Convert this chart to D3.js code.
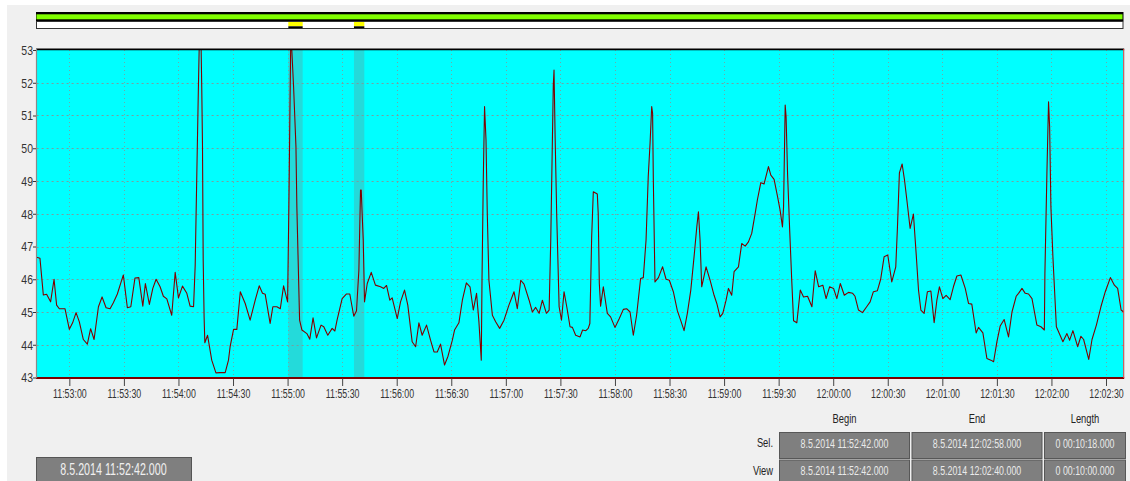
<!DOCTYPE html>
<html><head><meta charset="utf-8">
<script src="https://cdn.jsdelivr.net/npm/d3@7"></script>
<style>
html,body{margin:0;padding:0;background:#fff;}
svg{display:block;}
text{font-family:"Liberation Sans",Arial,sans-serif;}
</style></head><body>
<svg id="c" width="1130" height="481"></svg>
<script>
// ---------- data ----------
const viewStart = "2014-05-08 11:52:42";
const viewEnd = "2014-05-08 12:02:40";
const yTicks = [43,44,45,46,47,48,49,50,51,52,53];
const yGrid = [44,45,46,47,48,49,50,51,52];
// [seconds since view start, value]
const samples = [
[0.0,46.67],[1.85,46.64],[3.7,45.52],[5.5,45.54],[7.7,45.31],[9.6,46.0],[11.0,45.21],[12.5,45.1],[15.6,45.1],[18.0,44.47],
[19.8,44.67],[21.7,44.98],[23.5,44.7],[25.7,44.16],[27.9,44.02],[29.7,44.49],[31.6,44.16],[34.0,45.16],[36.0,45.46],[38.2,45.13],
[40.4,45.1],[42.2,45.28],[44.4,45.55],[46.3,45.89],[47.7,46.13],[49.9,45.13],[51.8,45.16],[54.1,46.04],[56.2,46.05],[58.4,45.18],
[59.8,45.87],[62.0,45.23],[63.9,45.72],[65.7,46.0],[67.9,45.77],[69.7,45.48],[71.6,45.4],[74.3,44.9],[76.2,46.21],[78.0,45.43],
[80.2,45.79],[82.6,45.57],[84.4,45.18],[86.3,45.16],[87.2,46.43],[88.1,49.23],[89.0,51.98],[89.6,53.6],[90.3,53.6],[90.8,51.88],
[91.2,50.15],[91.6,46.58],[92.1,44.85],[92.5,44.06],[94.0,44.29],[96.3,43.53],[98.6,43.14],[100.9,43.15],[103.7,43.15],[105.5,43.53],
[106.4,43.94],[108.3,44.47],[110.1,44.47],[112.0,45.62],[114.7,45.26],[117.4,44.75],[120.2,45.36],[122.4,45.8],[124.2,45.57],[125.7,45.54],
[128.4,44.65],[129.9,45.16],[132.1,45.16],[134.0,45.1],[135.8,45.8],[138.0,45.31],[138.7,48.21],[139.8,53.6],[141.3,51.88],[142.6,50.05],
[143.1,48.21],[144.6,44.75],[145.9,44.45],[148.6,44.34],
[150.2,44.17],[152.0,44.82],[153.9,44.21],[156.4,44.6],[157.9,44.55],[160.1,44.29],[162.5,44.5],[164.0,44.42],[165.2,44.75],[168.0,45.41],
[170.4,45.55],[172.2,45.55],[174.4,44.87],[175.9,45.04],[177.2,46.28],[178.1,48.72],[178.5,48.72],[179.0,48.0],[179.6,47.2],[180.3,45.31],
[181.8,45.87],[184.0,46.21],[186.3,45.82],[189.1,45.77],[190.9,45.72],[192.4,45.81],[194.2,45.36],[195.5,45.43],[198.3,44.8],[200.1,45.31],
[202.3,45.67],[204.1,45.21],[206.5,44.09],[208.4,43.94],[210.2,44.67],[212.0,44.29],[214.4,44.6],[216.6,44.14],[218.5,43.78],[220.3,43.78],
[222.1,44.02],[224.3,43.38],[226.2,43.65],[228.6,44.14],[229.8,44.45],[232.2,44.67],[234.1,45.36],[236.3,45.89],[238.3,45.77],[240.1,45.06],
[241.9,45.57],[243.2,44.7],[244.5,43.53],[244.9,45.97],[245.6,49.03],[246.3,51.27],[247.1,50.25],[247.8,48.01],[248.7,45.97],[250.6,44.9],
[252.4,44.7],[254.6,44.5],[257.0,44.75],[259.7,45.21],[262.5,45.62],[264.3,45.1],[266.2,45.97],[268.0,45.85],[270.8,45.36],[272.6,45.0],
[274.4,45.14],[276.3,44.96],[278.1,45.36],[280.3,44.96],[281.8,45.06],[282.7,47.2],[283.6,50.25],[284.1,51.93],[284.5,52.39],[285.1,50.35],
[286.0,47.91],[287.3,45.16],[288.6,44.75],[290.0,45.62],[291.5,45.16],[293.3,44.55],[294.6,44.53],[296.4,44.29],[298.8,44.24],
[300.2,44.45],[302.0,44.43],[303.3,44.5],[304.2,44.65],[305.2,47.3],[306.1,48.67],[308.3,48.6],[308.8,48.0],[309.4,45.87],[310.1,45.18],
[311.6,45.77],[313.8,44.96],[315.6,44.85],[318.0,44.53],[320.4,44.8],[322.6,45.08],[324.4,45.1],[326.3,45.0],[328.1,44.29],[329.9,44.9],
[332.1,46.02],[333.6,46.05],[335.1,47.2],[336.3,49.13],[337.3,50.15],[338.2,51.27],[338.7,51.07],[339.1,49.03],[340.0,45.92],[341.9,46.05],
[344.2,46.38],[346.1,46.0],[347.9,45.97],[350.1,45.62],[352.3,45.04],[354.1,44.75],[356.0,44.43],[357.8,44.96],[359.7,45.67],[361.5,46.69],
[363.0,47.6],[363.9,48.06],[364.8,47.2],[365.7,45.77],[368.1,46.38],[370.3,45.97],[372.5,45.51],[374.0,45.26],[375.8,44.85],[377.3,44.96],
[379.1,45.36],[380.4,45.72],[382.2,45.51],[383.5,46.23],[385.9,46.38],[387.7,47.09],[389.6,47.01],[391.4,47.14],[393.2,47.4],[395.1,48.01],
[396.3,48.42],[398.2,48.95],[400.0,48.91],[402.4,49.44],[403.7,49.18],[405.5,49.05],[407.4,48.52],[408.8,48.11],[410.1,47.6],[410.7,48.21],
[411.6,51.32],[412.1,50.96],[412.9,49.23],[414.0,47.6],[415.2,45.97],[416.2,44.73],[418.0,44.67],[419.9,45.67],[421.7,45.46],[423.9,45.48],
[426.3,45.16],[428.1,46.26],[430.0,45.77],[432.3,45.82],[434.1,45.41],[436.0,45.77],[438.2,45.72],[440.0,45.41],[441.9,45.87],[444.1,45.51],
[446.4,45.6],
[448.7,45.57],[450.0,45.48],[451.9,45.06],[454.1,44.98],[456.4,45.16],[458.3,45.31],[460.1,45.62],[462.3,45.65],[464.1,46.0],[466.0,46.69],
[468.0,46.74],[470.2,45.92],[472.4,46.38],[473.3,47.55],[474.4,49.25],[475.9,49.52],[477.2,49.03],[478.5,48.42],[480.3,47.55],[482.1,47.99],
[483.6,46.79],[484.9,45.67],[486.2,45.06],[488.0,44.96],[489.8,45.62],[491.7,45.64],[493.5,44.67],[495.0,45.36],[496.4,45.77],[498.3,45.41],
[500.1,45.51],[502.3,45.38],[504.1,45.77],[506.0,46.1],[508.2,46.13],[510.6,45.72],[512.4,45.26],[514.2,45.24],[516.6,44.36],[517.9,44.53],
[520.3,44.36],[522.5,43.58],[524.7,43.53],[526.2,43.48],[528.0,44.09],[529.8,44.57],[532.0,44.77],[534.4,44.24],[536.3,45.0],[538.6,45.48],
[539.9,45.57],[541.8,45.72],[543.6,45.57],[545.4,45.55],[547.3,45.41],[550.0,44.6],[552.2,44.55],[554.1,44.45],[554.4,46.18],[555.5,49.23],
[556.4,51.42],[557.0,50.66],[557.7,48.21],[558.8,46.69],[560.7,44.55],[564.3,44.09],[566.5,44.34],[568.0,44.14],[569.8,44.43],[572.4,43.94],
[574.2,44.26],[575.7,44.16],[578.5,43.55],[580.3,44.16],[582.7,44.6],[585.2,45.16],[587.6,45.62],[590.4,46.05],[592.6,45.82],[594.4,45.72],
[596.3,45.06],[597.7,45.0]
];
// marked intervals (seconds since view start)
const markedRanges = [[138.4,146.3],[174.5,180.2]];
const tableColumns = ["Begin","End","Length"];
const tableRows = ["Sel.","View"];
const selCells = ["8.5.2014 11:52:42.000","8.5.2014 12:02:58.000","0 00:10:18.000"];
const viewCells = ["8.5.2014 11:52:42.000","8.5.2014 12:02:40.000","0 00:10:00.000"];
const cursorLabel = "8.5.2014 11:52:42.000";

// ---------- drawing ----------
const parse = d3.timeParse("%Y-%m-%d %H:%M:%S");
const t0 = parse(viewStart), t1 = parse(viewEnd);
const toDate = s => new Date(t0.getTime() + s*1000);

const L = 36.6, R = 1124.2, T = 50, B = 377.5;
const x = d3.scaleTime().domain([t0, t1]).range([L, R]);
const y = d3.scaleLinear().domain([43, 53]).range([B, T]);

const svg = d3.select("#c");
svg.append("rect").attr("width",1130).attr("height",481).attr("fill","#fff");
svg.append("rect").attr("x",7).attr("y",5).attr("width",1123).attr("height",476).attr("fill","#f0f0f0");

// condensed text helper (the original UI font is tall and narrow)
function condText(parent, cx, cy, k, anchor) {
  return parent.append("text").attr("x",0).attr("y",cy).attr("text-anchor",anchor||"middle")
    .attr("transform",`translate(${cx},0) scale(${k},1)`);
}

// top overview bar
svg.append("rect").attr("x",36).attr("y",12).attr("width",1123.5-36).attr("height",9.3).attr("fill","#000");
svg.append("rect").attr("x",36.5).attr("y",14.3).attr("width",1122.5-36.5).attr("height",5).attr("fill","#80ff00");
svg.append("rect").attr("x",36.5).attr("y",21.5).attr("width",1123-36.5).attr("height",7).attr("fill","#fff").attr("stroke","#333").attr("stroke-width",1);
markedRanges.forEach(r => {
  const a = x(toDate(r[0])), b = x(toDate(r[1]));
  svg.append("rect").attr("x",a).attr("y",22).attr("width",b-a).attr("height",4.3).attr("fill","#ffff00");
  svg.append("rect").attr("x",a).attr("y",26.3).attr("width",b-a).attr("height",1.8).attr("fill","#000");
});

// plot area
svg.append("rect").attr("x",L).attr("y",T).attr("width",R-L).attr("height",B-T).attr("fill","#00ffff");
markedRanges.forEach(r => {
  const a = x(toDate(r[0])), b = x(toDate(r[1]));
  svg.append("rect").attr("x",a).attr("y",T).attr("width",b-a).attr("height",B-T).attr("fill","#24dada");
});

// grid
const xt = x.ticks(d3.timeSecond.every(30));
svg.append("g").selectAll("line").data(yGrid).join("line")
  .attr("x1",L).attr("x2",R).attr("y1",d=>Math.round(y(d))+0.5).attr("y2",d=>Math.round(y(d))+0.5)
  .attr("stroke","#7a9e9e").attr("stroke-width",1).attr("stroke-dasharray","2,3");
svg.append("g").selectAll("line").data(xt).join("line")
  .attr("x1",d=>Math.round(x(d))+0.5).attr("x2",d=>Math.round(x(d))+0.5).attr("y1",T).attr("y2",B)
  .attr("stroke","#6fa8a8").attr("stroke-width",1).attr("stroke-dasharray","1,3");

// line
svg.append("clipPath").attr("id","pc").append("rect").attr("x",L).attr("y",T).attr("width",R-L).attr("height",B-T);
const line = d3.line().x(d=>x(toDate(d[0]))).y(d=>y(d[1]));
svg.append("path").datum(samples).attr("clip-path","url(#pc)")
  .attr("d",line).attr("fill","none").attr("stroke","#800000").attr("stroke-width",1.1).attr("stroke-linejoin","round");

// borders
svg.append("line").attr("x1",L-0.5).attr("x2",R).attr("y1",49.3).attr("y2",49.3).attr("stroke","#000").attr("stroke-width",1.8);
svg.append("line").attr("x1",L-0.5).attr("x2",R).attr("y1",378).attr("y2",378).attr("stroke","#7a0000").attr("stroke-width",1.8);
svg.append("line").attr("x1",L-0.1).attr("x2",L-0.1).attr("y1",49).attr("y2",378).attr("stroke","#8a8a8a").attr("stroke-width",1.2);
svg.append("line").attr("x1",R-0.5).attr("x2",R-0.5).attr("y1",49).attr("y2",378).attr("stroke","#ff3b3b").attr("stroke-width",1);

// axes
const yAxis = svg.append("g").attr("transform",`translate(${L-0.6},0)`)
  .call(d3.axisLeft(y).tickValues(yTicks).tickSize(3).tickPadding(0).tickFormat(d3.format("d")));
yAxis.select(".domain").remove();
yAxis.selectAll(".tick line").attr("stroke","#333");
yAxis.selectAll("text").attr("font-size","12.5px").attr("fill","#333").attr("font-family",null)
  .attr("dy","0.34em").attr("x",-3.6).attr("transform","scale(0.84,1)");

const xAxis = svg.append("g").attr("transform","translate(0,378.5)")
  .call(d3.axisBottom(x).tickValues(xt).tickSize(7.5).tickPadding(3).tickFormat(d3.timeFormat("%H:%M:%S")));
xAxis.select(".domain").remove();
xAxis.selectAll(".tick line").attr("stroke","#444");
xAxis.selectAll("text").attr("font-size","13px").attr("fill","#333").attr("font-family",null)
  .attr("transform","scale(0.68,1)");

// bottom-left cursor box
svg.append("rect").attr("x",36.5).attr("y",457.5).attr("width",155).attr("height",30)
  .attr("fill","#7f7f7f").attr("stroke","#555").attr("stroke-width",1);
condText(svg, 113.5, 475, 0.67).attr("font-size","16px").attr("fill","#f0f0f0").text(cursorLabel);

// selection / view table
const colX = [779, 911.5, 1044], colW = [131, 131, 82];
const rowY = [432, 459.5], rowH = 27;
tableColumns.forEach((c,i) => {
  condText(svg, colX[i]+colW[i]/2, 423.5, 0.72).attr("font-size","13px").attr("fill","#222").text(c);
});
[selCells, viewCells].forEach((cells,r) => {
  condText(svg, 773, rowY[r]+15.5, 0.72, "end").attr("font-size","13px").attr("fill","#222").text(tableRows[r]);
  cells.forEach((v,i) => {
    svg.append("rect").attr("x",colX[i]+0.5).attr("y",rowY[r]+0.5).attr("width",colW[i]-1).attr("height",rowH-1)
      .attr("fill","#7f7f7f").attr("stroke","#575757").attr("stroke-width",1);
    condText(svg, colX[i]+colW[i]/2, rowY[r]+16, 0.68).attr("font-size","13px").attr("fill","#eaeaea").text(v);
  });
});
</script>
</body></html>
